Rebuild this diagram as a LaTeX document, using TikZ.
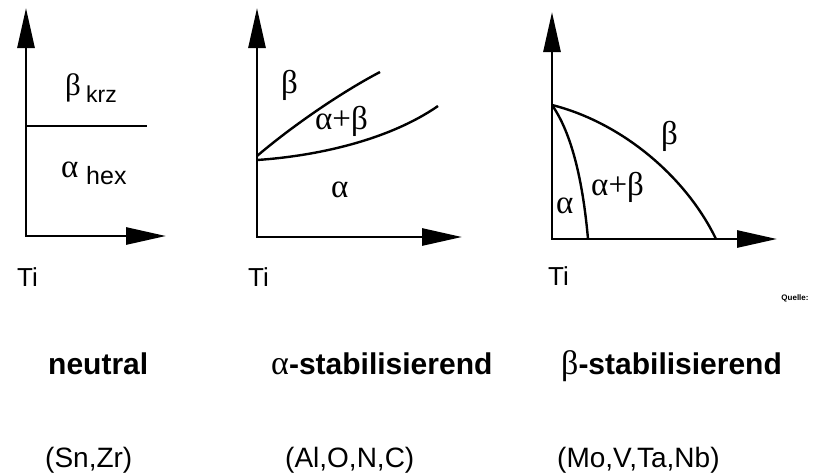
\documentclass[tikz,border=0pt]{standalone}
\usepackage{fontspec}
\setmainfont{Liberation Sans}
\newfontfamily\grk{Liberation Serif}
\usetikzlibrary{arrows.meta}
\begin{document}
\begin{tikzpicture}[x=1pt,y=-1pt,
  axis/.style={line width=2.8pt,line join=miter,
    {Triangle[length=40pt,width=17pt]}-{Triangle[length=40pt,width=17pt]}},
  curve/.style={line width=2.4pt},
  lbl/.style={inner sep=0pt,anchor=base west},
  gr/.style={lbl,font=\grk\fontsize{33}{36}\selectfont},
  ti/.style={lbl,font=\fontsize{26}{30}\selectfont},
  head/.style={lbl,font=\bfseries\fontsize{30}{34}\selectfont},
  elem/.style={lbl,font=\fontsize{28}{32}\selectfont}]
\useasboundingbox (0,0) rectangle (821,475);
\fill[white] (0,0) rectangle (821,475);

% ---------- panel 1: neutral ----------
\coordinate (o1) at (26,236);
\coordinate (y1) at (26,8);
\coordinate (x1) at (166,236);
\draw[axis] (y1) -- (o1) -- (x1);
\coordinate (h1a) at (26,126);
\coordinate (h1b) at (147,126);
\draw[curve] (h1a) -- (h1b);
\node[gr,font=\grk\fontsize{31}{34}\selectfont] (b1) at (65,95) {β};
\node[lbl,font=\fontsize{23}{26}\selectfont] (b1s) at (86,102) {krz};
\node[gr,font=\grk\fontsize{33}{36}\selectfont] (a1) at (61,177) {α};
\node[lbl,font=\fontsize{25}{28}\selectfont] (a1s) at (86,184) {hex};
\node[ti] (t1) at (17,286) {Ti};

% ---------- panel 2: alpha-stabilising ----------
\coordinate (o2) at (257,237);
\coordinate (y2) at (257,8);
\coordinate (x2) at (462,237);
\draw[axis] (y2) -- (o2) -- (x2);
\coordinate (j2u) at (257,156);
\coordinate (j2l) at (257,160);
\coordinate (e2u) at (380,72);
\coordinate (e2l) at (438,106);
\draw[curve] (j2u) .. controls (291,127) and (340,93) .. (e2u);
\draw[curve] (j2l) .. controls (317,156) and (389,140) .. (e2l);
\node[gr] (b2) at (281,93) {β};
\node[gr] (ab2) at (315,129) {α+β};
\node[gr] (a2) at (331,197) {α};
\node[ti] (t2) at (248,286) {Ti};

% ---------- panel 3: beta-stabilising ----------
\coordinate (o3) at (552,239);
\coordinate (y3) at (552,12);
\coordinate (x3) at (777,239);
\draw[axis] (y3) -- (o3) -- (x3);
\coordinate (j3) at (552,105);
\coordinate (e3o) at (716,239);
\coordinate (e3i) at (588,239);
\draw[curve] (j3) .. controls (620,122) and (685,175) .. (e3o);
\draw[curve] (j3) .. controls (575,138) and (584,194) .. (e3i);
\node[gr] (b3) at (661,144) {β};
\node[gr] (ab3) at (591,195) {α+β};
\node[gr] (a3) at (556,213) {α};
\node[ti] (t3) at (548,285) {Ti};

\node[inner sep=0pt,font=\bfseries\fontsize{8}{9}\selectfont] (q) at (795,298) {Quelle:};

% ---------- bottom captions ----------
\node[head] (n1) at (48,374) {neutral};
\node[head] (n2) at (271,374) {{\grk\mdseries\fontsize{34}{36}\selectfont α}-stabilisierend};
\node[head] (n3) at (561,374) {{\grk\mdseries\fontsize{34}{36}\selectfont β}-stabilisierend};
\node[elem] (e1) at (45,467) {(Sn,Zr)};
\node[elem] (e2) at (285,467) {(Al,O,N,C)};
\node[elem] (e3) at (557,467) {(Mo,V,Ta,Nb)};
\end{tikzpicture}
\end{document}
